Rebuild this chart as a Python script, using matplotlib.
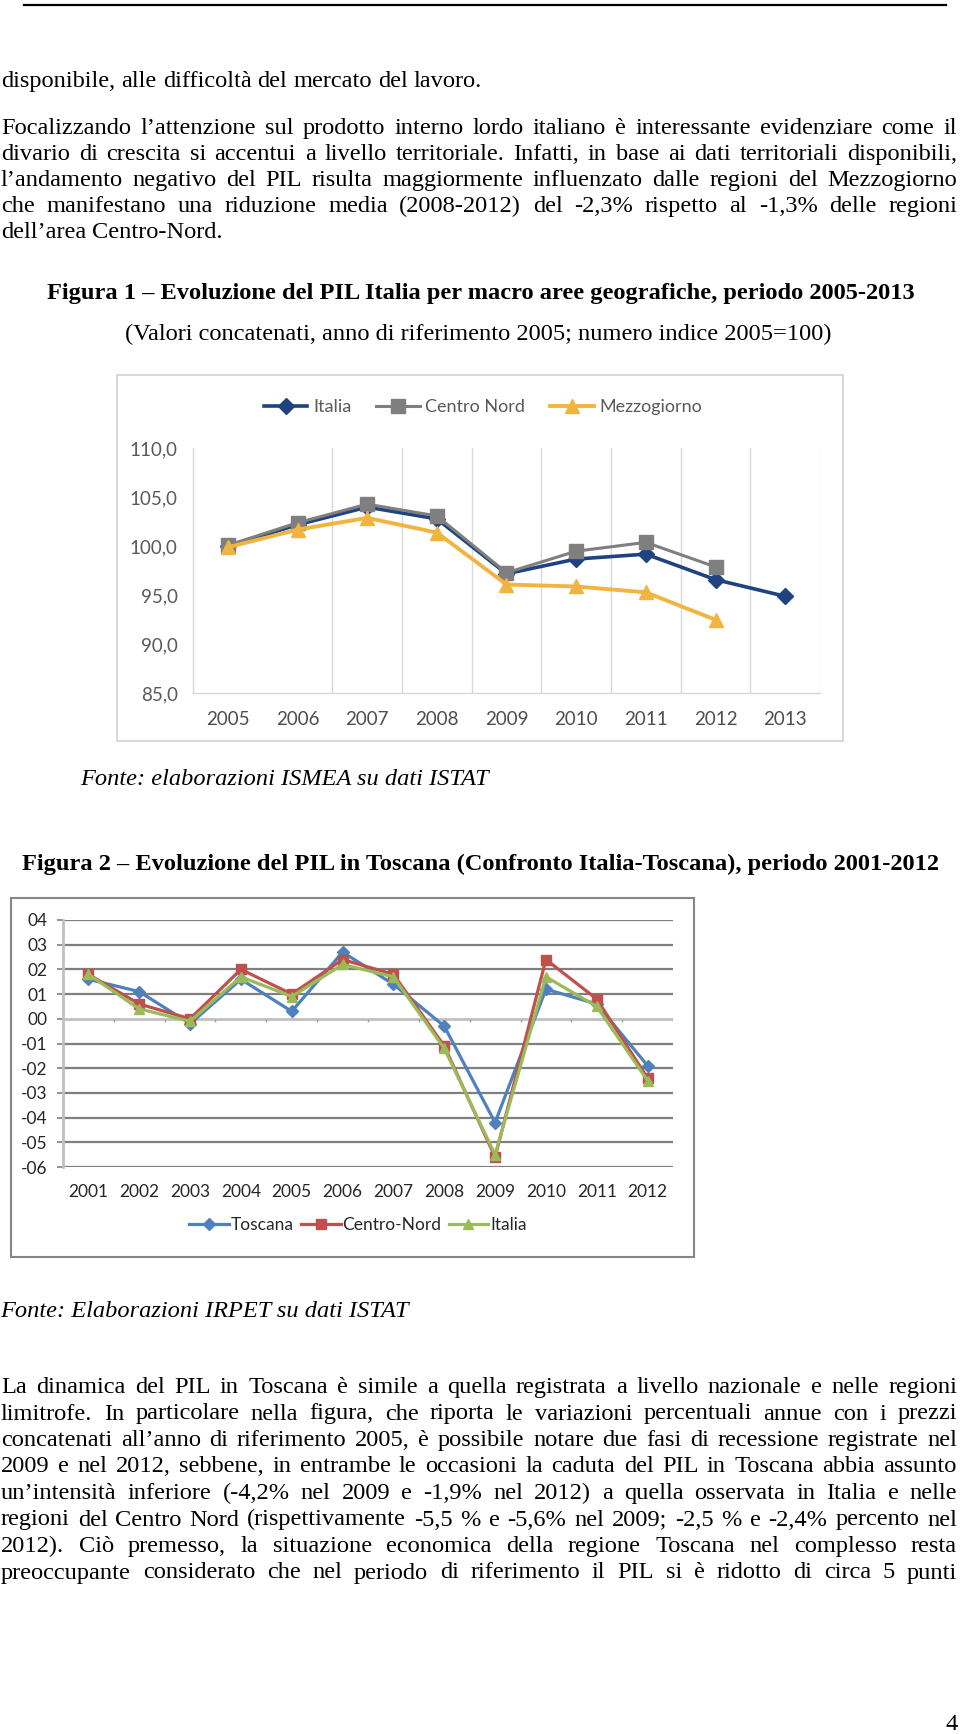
import matplotlib
matplotlib.use("Agg")
import matplotlib.pyplot as plt
from matplotlib.patches import Rectangle
from matplotlib.lines import Line2D
import numpy as np

# ---------------- data ----------------
years1 = ["2005", "2006", "2007", "2008", "2009", "2010", "2011", "2012", "2013"]
italia1 = [100.0, 102.2, 104.0, 102.8, 97.2, 98.7, 99.2, 96.6, 94.9]
centro_nord1 = [100.1, 102.4, 104.3, 103.1, 97.3, 99.5, 100.4, 97.9]
mezzogiorno1 = [99.9, 101.7, 102.9, 101.4, 96.1, 95.9, 95.3, 92.5]
yticks1 = [85, 90, 95, 100, 105, 110]

years2 = ["2001", "2002", "2003", "2004", "2005", "2006", "2007", "2008", "2009", "2010", "2011", "2012"]
toscana2 = [1.6, 1.1, -0.2, 1.6, 0.3, 2.7, 1.4, -0.3, -4.2, 1.2, 0.6, -1.9]
centro_nord2 = [1.8, 0.6, 0.0, 2.0, 1.0, 2.4, 1.8, -1.1, -5.6, 2.4, 0.8, -2.4]
italia2 = [1.8, 0.4, -0.1, 1.7, 0.9, 2.2, 1.7, -1.2, -5.5, 1.7, 0.5, -2.5]
yticks2 = [-6, -5, -4, -3, -2, -1, 0, 1, 2, 3, 4]

para1 = ["disponibile, alle difficoltà del mercato del lavoro."]
para2 = [
    "Focalizzando l’attenzione sul prodotto interno lordo italiano è interessante evidenziare come il",
    "divario di crescita si accentui a livello territoriale. Infatti, in base ai dati territoriali disponibili,",
    "l’andamento negativo del PIL risulta maggiormente influenzato dalle regioni del Mezzogiorno",
    "che manifestano una riduzione media (2008-2012) del -2,3% rispetto al -1,3% delle regioni",
    "dell’area Centro-Nord.",
]
para3 = [
    "La dinamica del PIL in Toscana è simile a quella registrata a livello nazionale e nelle regioni",
    "limitrofe. In particolare nella figura, che riporta le variazioni percentuali annue con i prezzi",
    "concatenati all’anno di riferimento 2005, è possibile notare due fasi di recessione registrate nel",
    "2009 e nel 2012, sebbene, in entrambe le occasioni la caduta del PIL in Toscana abbia assunto",
    "un’intensità inferiore (-4,2% nel 2009 e -1,9% nel 2012) a quella osservata in Italia e nelle",
    "regioni del Centro Nord (rispettivamente -5,5 % e -5,6% nel 2009; -2,5 % e -2,4% percento nel",
    "2012). Ciò premesso, la situazione economica della regione Toscana nel complesso resta",
    "preoccupante considerato che nel periodo di riferimento il PIL si è ridotto di circa 5 punti",
]
title1 = "Figura 1 – Evoluzione del PIL Italia per macro aree geografiche, periodo 2005-2013"
subtitle1 = "(Valori concatenati, anno di riferimento 2005; numero indice 2005=100)"
source1 = "Fonte: elaborazioni ISMEA su dati ISTAT"
title2 = "Figura 2 – Evoluzione del PIL in Toscana (Confronto Italia-Toscana), periodo 2001-2012"
source2 = "Fonte: Elaborazioni IRPET su dati ISTAT"

# ---------------- figure ----------------
W, H = 960, 1734
fig = plt.figure(figsize=(W / 100, H / 100), dpi=100)
fig.patch.set_facecolor("white")
renderer = fig.canvas.get_renderer()

SERIF = ["Liberation Serif", "DejaVu Serif"]
SANS = ["Lato", "DejaVu Sans"]
BODY = 17.6


def fx(x):
    return x / W


def fy(y):
    return 1 - y / H


def add_axes_px(l, t, r, b):
    return fig.add_axes([fx(l), fy(b), (r - l) / W, (b - t) / H])


def measure(s):
    t = fig.text(0, 0, s, fontsize=BODY, family=SERIF)
    w = t.get_window_extent(renderer=renderer).width
    t.remove()
    return w


SPACE_W = measure("a b") - measure("ab")


def text_line(s, y, x0=1, x1=957, justify=True, **kw):
    words = s.split(" ")
    objs = [fig.text(0, fy(y), w, fontsize=BODY, family=SERIF, va="baseline", ha="left", **kw) for w in words]
    widths = [o.get_window_extent(renderer=renderer).width for o in objs]
    if justify and len(words) > 1:
        gap = (x1 - x0 - sum(widths)) / (len(words) - 1)
    else:
        gap = SPACE_W
    x = x0
    for o, w in zip(objs, widths):
        o.set_x(fx(x))
        x += w + gap


# top rule
fig.add_artist(Line2D([fx(24), fx(946)], [fy(5), fy(5)], color="black", lw=1.6))

# paragraph 1 and 2
text_line(para1[0], 87, justify=False)
ys2 = [134, 160, 186, 212, 238]
for i, (s, y) in enumerate(zip(para2, ys2)):
    text_line(s, y, justify=(i < len(para2) - 1))

# figure 1 titles
fig.text(fx(481), fy(299), title1, fontsize=BODY, family=SERIF, fontweight="bold", ha="center", va="baseline")
fig.text(fx(478), fy(340), subtitle1, fontsize=BODY, family=SERIF, ha="center", va="baseline")

# ---------------- chart 1 ----------------
fig.add_artist(Rectangle((fx(117), fy(741)), (843 - 117) / W, (741 - 375) / H,
                         transform=fig.transFigure, fill=False, edgecolor="#d9d9d9", lw=1.5))
ax1 = add_axes_px(193, 448.3, 820, 693.3)
x1 = np.arange(len(years1))
c_it, c_cn, c_mz = "#1f4280", "#7f7f7f", "#f2b440"
ax1.plot(x1[:len(italia1)], italia1, color=c_it, lw=2.6, marker="D", ms=8, label="Italia", zorder=3)
ax1.plot(x1[:len(centro_nord1)], centro_nord1, color=c_cn, lw=2.2, marker="s", ms=10, label="Centro Nord", zorder=4)
ax1.plot(x1[:len(mezzogiorno1)], mezzogiorno1, color=c_mz, lw=2.8, marker="^", ms=10, label="Mezzogiorno", zorder=5)
ax1.set_xlim(-0.5, len(years1) - 0.5)
ax1.set_ylim(85, 110)
for b in np.arange(1.5, len(years1), 1.0):
    ax1.axvline(b, color="#d9d9d9", lw=1.0, zorder=1)
ax1.set_xticks(x1)
ax1.set_xticklabels(years1)
ax1.set_yticks(yticks1)
ax1.set_yticklabels([f"{v:.1f}".replace(".", ",") for v in yticks1])
ax1.tick_params(axis="both", length=0, labelcolor="#595959", labelsize=13.5)
ax1.tick_params(axis="y", pad=11)
ax1.tick_params(axis="x", pad=13)
for lab in ax1.get_xticklabels() + ax1.get_yticklabels():
    lab.set_family(SANS)
for lab in ax1.get_xticklabels():
    lab.set_color("#4d4d4d")
for sp in ["top", "right"]:
    ax1.spines[sp].set_visible(False)
for sp in ["left", "bottom"]:
    ax1.spines[sp].set_color("#d9d9d9")
    ax1.spines[sp].set_linewidth(1.0)
leg1 = fig.legend(handles=ax1.get_lines()[:3], loc="center", bbox_to_anchor=(fx(483), fy(407)),
                  ncol=3, frameon=False, prop={"family": SANS, "size": 13},
                  handlelength=2.4, handletextpad=0.3, columnspacing=1.4, labelcolor="#595959")

fig.text(fx(80), fy(785), source1, fontsize=BODY, family=SERIF, style="italic", ha="left", va="baseline")
fig.text(fx(480), fy(870), title2, fontsize=BODY, family=SERIF, fontweight="bold", ha="center", va="baseline")

# ---------------- chart 2 ----------------
fig.add_artist(Rectangle((fx(11), fy(1257)), (694 - 11) / W, (1257 - 898) / H,
                         transform=fig.transFigure, fill=False, edgecolor="#868686", lw=1.5))
ax2 = add_axes_px(63, 920, 673, 1167)
x2 = np.arange(len(years2))
c_to, c_cn2, c_it2 = "#4f81bd", "#c0504d", "#9bbb59"
for v in yticks2:
    if v != 0:
        ax2.axhline(v, color="#7f7f7f", lw=1.6, zorder=1)
ax2.axhline(0, color="#c0c0c0", lw=2.0, zorder=1)
ax2.vlines(np.arange(0.5, len(years2), 1.0), -0.13, 0, color="#a0a0a0", lw=1.0, zorder=1)
ax2.plot(x2, toscana2, color=c_to, lw=2.3, marker="D", ms=6, label="Toscana", zorder=3)
ax2.plot(x2, centro_nord2, color=c_cn2, lw=2.3, marker="s", ms=7, label="Centro-Nord", zorder=4)
ax2.plot(x2, italia2, color=c_it2, lw=2.3, marker="^", ms=7.5, label="Italia", zorder=5)
ax2.set_xlim(-0.5, len(years2) - 0.5)
ax2.set_ylim(-6, 4)
ax2.set_xticks(x2)
ax2.set_xticklabels(years2)
ax2.set_yticks(yticks2)
ax2.set_yticklabels([("-" if v < 0 else "") + f"{abs(v):02d}" for v in yticks2])
ax2.tick_params(axis="x", length=0, pad=12, labelsize=12.5, labelcolor="#262626")
ax2.tick_params(axis="y", length=4, width=1.2, color="#7f7f7f", pad=7, labelsize=12.5, labelcolor="#262626")
for lab in ax2.get_xticklabels() + ax2.get_yticklabels():
    lab.set_family(SANS)
for sp in ["top", "right", "bottom"]:
    ax2.spines[sp].set_visible(False)
ax2.spines["left"].set_color("#c0c0c0")
ax2.spines["left"].set_linewidth(2.0)
leg2 = fig.legend(handles=ax2.get_lines()[-3:], loc="center", bbox_to_anchor=(fx(358), fy(1225)),
                  ncol=3, frameon=False, prop={"family": SANS, "size": 12.5},
                  handlelength=2.3, handletextpad=0.1, columnspacing=0.4, labelcolor="#262626")

fig.text(fx(0), fy(1317), source2, fontsize=BODY, family=SERIF, style="italic", ha="left", va="baseline")

ys3 = [1393 + 26.5 * i for i in range(len(para3))]
for s, y in zip(para3, ys3):
    text_line(s, y, justify=True)

fig.text(fx(958), fy(1730), "4", fontsize=BODY, family=SERIF, ha="right", va="baseline")

fig.savefig("out.png", dpi=100, facecolor="white")
